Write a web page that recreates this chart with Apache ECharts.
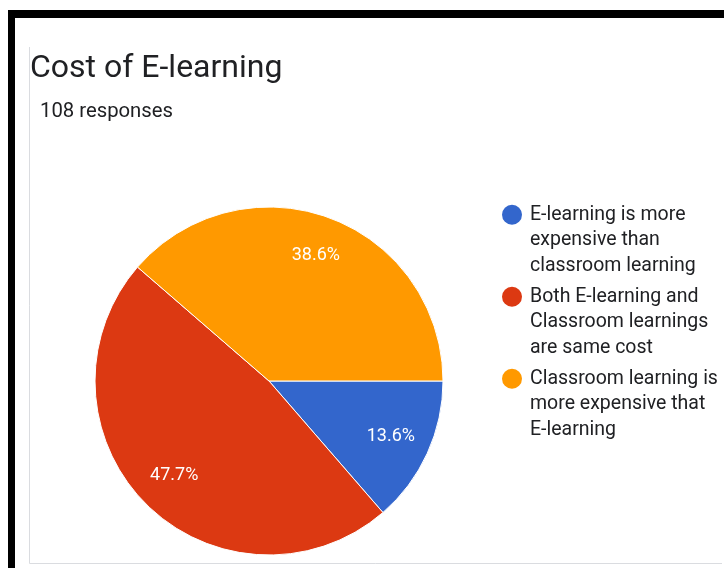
<!DOCTYPE html>
<html>
<head>
<meta charset="utf-8">
<title>Cost of E-learning</title>
<script src="https://cdn.jsdelivr.net/npm/echarts@6/dist/echarts.min.js"></script>
<style>
  html, body { margin: 0; padding: 0; background: #ffffff; }
  #chart { width: 724px; height: 568px; }
</style>
</head>
<body>
<div id="chart"></div>
<script>
// Survey answers (counts per option)
const categories = [
  'E-learning is more expensive than classroom learning',
  'Both E-learning and Classroom learnings are same cost',
  'Classroom learning is more expensive that E-learning'
];
const legendLines = [
  'E-learning is more\nexpensive than\nclassroom learning',
  'Both E-learning and\nClassroom learnings\nare same cost',
  'Classroom learning is\nmore expensive that\nE-learning'
];
const counts = [12, 42, 34];
const sliceColors = ['#3366cc', '#dc3912', '#ff9900'];
const responseCount = 108;

const total = counts.reduce((a, b) => a + b, 0);
const pieData = categories.map((name, i) => ({
  name: name,
  value: counts[i],
  itemStyle: { color: sliceColors[i] }
}));

const FONT = 'Roboto, "Noto Sans", sans-serif';
const LH = 25.5;
const center = [269, 381];

const chart = echarts.init(document.getElementById('chart'), null, { renderer: 'canvas' });
chart.setOption({
  animation: false,
  backgroundColor: '#ffffff',
  title: [
    {
      text: 'Cost of E-learning',
      left: 30, top: 53, padding: 0,
      textStyle: { fontFamily: FONT, fontSize: 32, fontWeight: 'normal', color: '#202124' }
    },
    {
      text: responseCount + ' responses',
      left: 40, top: 102, padding: 0,
      textStyle: { fontFamily: FONT, fontSize: 20.3, fontWeight: 'normal', color: '#202124' }
    }
  ],
  legend: {
    orient: 'vertical',
    left: 502,
    top: 151,
    padding: 0,
    itemWidth: 20,
    itemHeight: 20,
    itemGap: 82 - 5 * LH,
    icon: 'circle',
    itemStyle: { borderWidth: 0 },
    selectedMode: false,
    data: categories,
    // two blank leading lines keep the first text line level with the dot
    formatter: function (name) {
      return '\n\n' + legendLines[categories.indexOf(name)];
    },
    textStyle: {
      fontFamily: FONT,
      fontSize: 19.5,
      lineHeight: LH,
      color: '#202124',
      padding: [0, 0, 0, 3]
    }
  },
  graphic: [
    // photo frame bands
    { type: 'rect', silent: true, shape: { x: 8, y: 10, width: 716, height: 8 }, style: { fill: '#000000' } },
    { type: 'rect', silent: true, shape: { x: 8, y: 10, width: 7, height: 558 }, style: { fill: '#000000' } },
    // card outline
    {
      type: 'polyline', silent: true,
      shape: { points: [[29.5, 47], [29.5, 563.5], [722, 563.5]] },
      style: { stroke: '#dadce0', lineWidth: 1, fill: null }
    }
  ],
  series: [
    {
      type: 'pie',
      center: center,
      radius: 174,
      startAngle: 0,
      clockwise: true,
      avoidLabelOverlap: false,
      label: { show: false },
      labelLine: { show: false },
      emphasis: { disabled: true },
      itemStyle: { borderColor: '#ffffff', borderWidth: 1 },
      data: pieData
    },
    {
      // transparent ring carrying the percentage labels
      type: 'pie',
      center: center,
      radius: [88, 174],
      startAngle: 0,
      clockwise: true,
      silent: true,
      avoidLabelOverlap: false,
      emphasis: { disabled: true },
      itemStyle: { color: 'transparent', borderWidth: 0 },
      label: {
        show: true,
        position: 'inside',
        fontFamily: FONT,
        fontSize: 18,
        color: '#ffffff',
        formatter: function (p) {
          return (p.value / total * 100).toFixed(1) + '%';
        }
      },
      labelLine: { show: false },
      data: categories.map((name, i) => ({ name: name, value: counts[i] }))
    }
  ]
});
</script>
</body>
</html>
